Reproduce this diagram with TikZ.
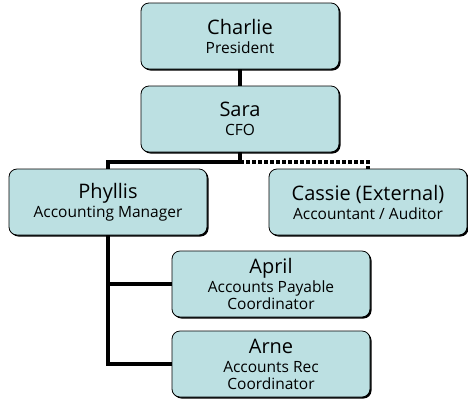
\documentclass[tikz,border=0pt]{standalone}
\usepackage{fontspec}
\setmainfont{Open Sans}
\usetikzlibrary{shadows,positioning}
\definecolor{boxfill}{HTML}{BCE0E2}

\newcommand{\who}[2]{{\fontsize{20}{22}\selectfont #1}\\[2pt]#2}

\begin{document}
\begin{tikzpicture}[x=1pt,y=-1pt,
    box/.style={draw=black, line width=0.8pt, fill=boxfill, rounded corners=8pt,
      minimum width=198pt, minimum height=66pt, align=center, inner sep=2pt,
      font=\fontsize{15.5}{17}\selectfont,
      drop shadow={shadow xshift=1.5pt, shadow yshift=-1.5pt, fill=black, opacity=1}},
    link/.style={line width=4pt},
    ext/.style={line width=4pt, dash pattern=on 4pt off 2pt}]
    \useasboundingbox (0,0) rectangle (468,400);

    \node[box] (charlie) at (240,36) {\who{Charlie}{President}};
    \node[box] (sara) at (240,119) {\who{Sara}{CFO}};
    \node[box] (phyllis) at (108,202) {\who{Phyllis}{Accounting Manager}};
    \node[box] (cassie) at (368,202) {\who{Cassie (External)}{Accountant / Auditor}};
    \node[box] (april) at (271,284) {\who{April}{Accounts Payable\\Coordinator}};
    \node[box] (arne) at (271,364) {\who{Arne}{Accounts Rec\\Coordinator}};

    \draw[link] (charlie) -- (sara);
    \draw[link] (sara.south) -- ++(0,10) coordinate (split) -| (phyllis.north); % direct report
    \draw[ext] (split) -| (cassie.north); % external
    \draw[link] (phyllis.south) |- (april.west);
    \draw[link] (phyllis.south) |- (arne.west);
\end{tikzpicture}
\end{document}
